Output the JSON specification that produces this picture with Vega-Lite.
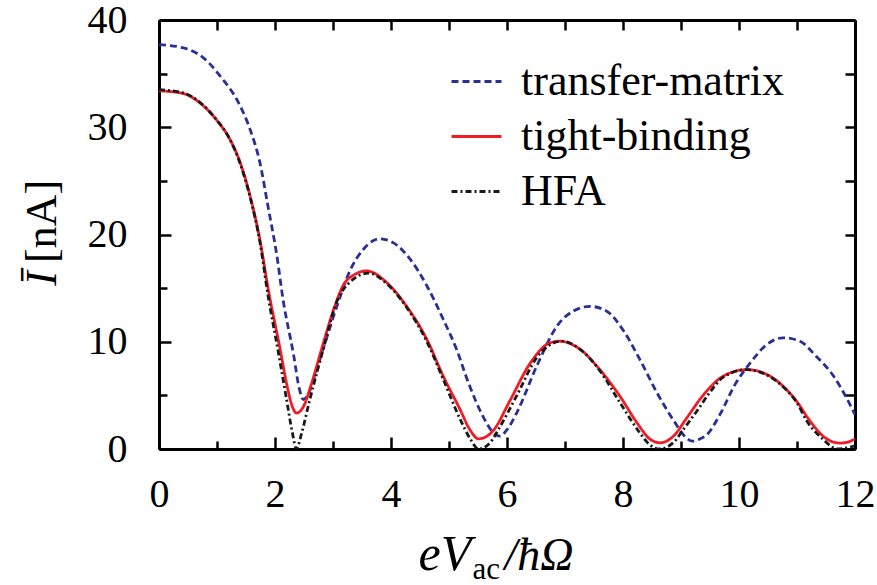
{
  "$schema": "https://vega.github.io/schema/vega-lite/v6.json",
  "width": 696,
  "height": 429,
  "autosize": "none",
  "padding": {"left": 159, "top": 20, "right": 22, "bottom": 136},
  "background": "white",
  "config": {
    "view": {"stroke": null},
    "font": "'Liberation Serif', 'Times New Roman', 'DejaVu Serif', serif",
    "axis": {"grid": false, "domainColor": "black", "domainWidth": 3, "tickColor": "black", "tickWidth": 2.5, "labelFont": "'Liberation Serif', 'Times New Roman', 'DejaVu Serif', serif", "labelFontSize": 40, "labelColor": "black", "titleFont": "'Liberation Serif', 'Times New Roman', 'DejaVu Serif', serif", "titleColor": "black", "titleFontWeight": "normal"}
  },
  "data": {"values": [
    {"model": "transfer-matrix", "V": 0, "I": 37.7},
    {"model": "transfer-matrix", "V": 0.42, "I": 37.4},
    {"model": "transfer-matrix", "V": 0.76, "I": 36.5},
    {"model": "transfer-matrix", "V": 1.08, "I": 34.6},
    {"model": "transfer-matrix", "V": 1.37, "I": 32.3},
    {"model": "transfer-matrix", "V": 1.57, "I": 29.8},
    {"model": "transfer-matrix", "V": 1.74, "I": 26.7},
    {"model": "transfer-matrix", "V": 1.88, "I": 22.6},
    {"model": "transfer-matrix", "V": 2.03, "I": 18.1},
    {"model": "transfer-matrix", "V": 2.14, "I": 13.9},
    {"model": "transfer-matrix", "V": 2.32, "I": 8.8},
    {"model": "transfer-matrix", "V": 2.42, "I": 5.6},
    {"model": "transfer-matrix", "V": 2.49, "I": 4.6},
    {"model": "transfer-matrix", "V": 2.58, "I": 5.2},
    {"model": "transfer-matrix", "V": 2.77, "I": 8.3},
    {"model": "transfer-matrix", "V": 3.06, "I": 13.2},
    {"model": "transfer-matrix", "V": 3.29, "I": 16.6},
    {"model": "transfer-matrix", "V": 3.52, "I": 18.6},
    {"model": "transfer-matrix", "V": 3.81, "I": 19.6},
    {"model": "transfer-matrix", "V": 4.05, "I": 19.2},
    {"model": "transfer-matrix", "V": 4.33, "I": 17.7},
    {"model": "transfer-matrix", "V": 4.62, "I": 15.2},
    {"model": "transfer-matrix", "V": 4.9, "I": 12.1},
    {"model": "transfer-matrix", "V": 5.13, "I": 9.3},
    {"model": "transfer-matrix", "V": 5.34, "I": 6.1},
    {"model": "transfer-matrix", "V": 5.59, "I": 3.0},
    {"model": "transfer-matrix", "V": 5.75, "I": 1.6},
    {"model": "transfer-matrix", "V": 5.88, "I": 1.2},
    {"model": "transfer-matrix", "V": 6.0, "I": 1.8},
    {"model": "transfer-matrix", "V": 6.17, "I": 3.4},
    {"model": "transfer-matrix", "V": 6.51, "I": 7.7},
    {"model": "transfer-matrix", "V": 6.88, "I": 11.6},
    {"model": "transfer-matrix", "V": 7.14, "I": 12.85},
    {"model": "transfer-matrix", "V": 7.43, "I": 13.3},
    {"model": "transfer-matrix", "V": 7.72, "I": 12.85},
    {"model": "transfer-matrix", "V": 8.0, "I": 11.1},
    {"model": "transfer-matrix", "V": 8.29, "I": 8.35},
    {"model": "transfer-matrix", "V": 8.6, "I": 5.1},
    {"model": "transfer-matrix", "V": 8.88, "I": 2.6},
    {"model": "transfer-matrix", "V": 9.08, "I": 1.1},
    {"model": "transfer-matrix", "V": 9.2, "I": 0.73},
    {"model": "transfer-matrix", "V": 9.33, "I": 0.95},
    {"model": "transfer-matrix", "V": 9.44, "I": 1.3},
    {"model": "transfer-matrix", "V": 9.67, "I": 3.2},
    {"model": "transfer-matrix", "V": 9.93, "I": 6.0},
    {"model": "transfer-matrix", "V": 10.19, "I": 8.0},
    {"model": "transfer-matrix", "V": 10.48, "I": 9.74},
    {"model": "transfer-matrix", "V": 10.76, "I": 10.37},
    {"model": "transfer-matrix", "V": 11.05, "I": 10.05},
    {"model": "transfer-matrix", "V": 11.33, "I": 8.65},
    {"model": "transfer-matrix", "V": 11.63, "I": 6.8},
    {"model": "transfer-matrix", "V": 11.86, "I": 4.7},
    {"model": "transfer-matrix", "V": 12.0, "I": 3.2},

    {"model": "tight-binding", "V": 0, "I": 33.4},
    {"model": "tight-binding", "V": 0.42, "I": 33.15},
    {"model": "tight-binding", "V": 0.7, "I": 32.3},
    {"model": "tight-binding", "V": 0.99, "I": 30.7},
    {"model": "tight-binding", "V": 1.22, "I": 28.9},
    {"model": "tight-binding", "V": 1.4, "I": 26.7},
    {"model": "tight-binding", "V": 1.57, "I": 23.6},
    {"model": "tight-binding", "V": 1.74, "I": 19.5},
    {"model": "tight-binding", "V": 1.88, "I": 15.0},
    {"model": "tight-binding", "V": 2.09, "I": 9.25},
    {"model": "tight-binding", "V": 2.2, "I": 6.1},
    {"model": "tight-binding", "V": 2.3, "I": 3.95},
    {"model": "tight-binding", "V": 2.37, "I": 3.35},
    {"model": "tight-binding", "V": 2.49, "I": 3.95},
    {"model": "tight-binding", "V": 2.63, "I": 6.1},
    {"model": "tight-binding", "V": 2.8, "I": 9.25},
    {"model": "tight-binding", "V": 3.03, "I": 13.3},
    {"model": "tight-binding", "V": 3.18, "I": 15.3},
    {"model": "tight-binding", "V": 3.35, "I": 16.2},
    {"model": "tight-binding", "V": 3.58, "I": 16.6},
    {"model": "tight-binding", "V": 3.93, "I": 15.5},
    {"model": "tight-binding", "V": 4.27, "I": 13.3},
    {"model": "tight-binding", "V": 4.62, "I": 10.2},
    {"model": "tight-binding", "V": 4.9, "I": 6.8},
    {"model": "tight-binding", "V": 5.19, "I": 3.7},
    {"model": "tight-binding", "V": 5.36, "I": 1.8},
    {"model": "tight-binding", "V": 5.51, "I": 0.95},
    {"model": "tight-binding", "V": 5.64, "I": 1.15},
    {"model": "tight-binding", "V": 5.76, "I": 1.7},
    {"model": "tight-binding", "V": 6.05, "I": 4.5},
    {"model": "tight-binding", "V": 6.4, "I": 8.0},
    {"model": "tight-binding", "V": 6.74, "I": 9.9},
    {"model": "tight-binding", "V": 6.91, "I": 10.05},
    {"model": "tight-binding", "V": 7.26, "I": 9.3},
    {"model": "tight-binding", "V": 7.6, "I": 7.4},
    {"model": "tight-binding", "V": 7.95, "I": 4.9},
    {"model": "tight-binding", "V": 8.24, "I": 2.45},
    {"model": "tight-binding", "V": 8.47, "I": 0.9},
    {"model": "tight-binding", "V": 8.64, "I": 0.58},
    {"model": "tight-binding", "V": 8.87, "I": 1.2},
    {"model": "tight-binding", "V": 9.1, "I": 2.9},
    {"model": "tight-binding", "V": 9.38, "I": 5.0},
    {"model": "tight-binding", "V": 9.73, "I": 6.8},
    {"model": "tight-binding", "V": 10.13, "I": 7.4},
    {"model": "tight-binding", "V": 10.48, "I": 6.95},
    {"model": "tight-binding", "V": 10.76, "I": 5.86},
    {"model": "tight-binding", "V": 11.0, "I": 4.4},
    {"model": "tight-binding", "V": 11.2, "I": 2.8},
    {"model": "tight-binding", "V": 11.45, "I": 1.2},
    {"model": "tight-binding", "V": 11.6, "I": 0.7},
    {"model": "tight-binding", "V": 11.74, "I": 0.55},
    {"model": "tight-binding", "V": 11.88, "I": 0.65},
    {"model": "tight-binding", "V": 12.0, "I": 0.95},

    {"model": "HFA", "V": 0, "I": 33.5},
    {"model": "HFA", "V": 0.42, "I": 33.2},
    {"model": "HFA", "V": 0.7, "I": 32.35},
    {"model": "HFA", "V": 0.99, "I": 30.7},
    {"model": "HFA", "V": 1.22, "I": 28.9},
    {"model": "HFA", "V": 1.4, "I": 26.6},
    {"model": "HFA", "V": 1.57, "I": 23.5},
    {"model": "HFA", "V": 1.74, "I": 19.3},
    {"model": "HFA", "V": 1.88, "I": 14.3},
    {"model": "HFA", "V": 2.05, "I": 9.25},
    {"model": "HFA", "V": 2.2, "I": 4.6},
    {"model": "HFA", "V": 2.3, "I": 1.5},
    {"model": "HFA", "V": 2.37, "I": 0.0},
    {"model": "HFA", "V": 2.46, "I": 1.5},
    {"model": "HFA", "V": 2.6, "I": 4.6},
    {"model": "HFA", "V": 2.83, "I": 9.25},
    {"model": "HFA", "V": 3.07, "I": 13.8},
    {"model": "HFA", "V": 3.3, "I": 15.6},
    {"model": "HFA", "V": 3.61, "I": 16.4},
    {"model": "HFA", "V": 3.93, "I": 15.4},
    {"model": "HFA", "V": 4.27, "I": 13.2},
    {"model": "HFA", "V": 4.62, "I": 10.0},
    {"model": "HFA", "V": 4.9, "I": 6.5},
    {"model": "HFA", "V": 5.19, "I": 2.8},
    {"model": "HFA", "V": 5.36, "I": 1.0},
    {"model": "HFA", "V": 5.51, "I": 0.0},
    {"model": "HFA", "V": 5.71, "I": 0.6},
    {"model": "HFA", "V": 5.86, "I": 1.9},
    {"model": "HFA", "V": 6.17, "I": 5.0},
    {"model": "HFA", "V": 6.51, "I": 8.5},
    {"model": "HFA", "V": 6.94, "I": 10.05},
    {"model": "HFA", "V": 7.26, "I": 9.3},
    {"model": "HFA", "V": 7.6, "I": 7.3},
    {"model": "HFA", "V": 7.95, "I": 4.3},
    {"model": "HFA", "V": 8.29, "I": 1.5},
    {"model": "HFA", "V": 8.45, "I": 0.45},
    {"model": "HFA", "V": 8.62, "I": 0.0},
    {"model": "HFA", "V": 8.87, "I": 0.6},
    {"model": "HFA", "V": 9.05, "I": 1.9},
    {"model": "HFA", "V": 9.27, "I": 3.5},
    {"model": "HFA", "V": 9.5, "I": 5.3},
    {"model": "HFA", "V": 9.73, "I": 6.7},
    {"model": "HFA", "V": 10.13, "I": 7.4},
    {"model": "HFA", "V": 10.48, "I": 6.9},
    {"model": "HFA", "V": 10.76, "I": 5.8},
    {"model": "HFA", "V": 11.0, "I": 4.3},
    {"model": "HFA", "V": 11.17, "I": 2.6},
    {"model": "HFA", "V": 11.45, "I": 0.9},
    {"model": "HFA", "V": 11.6, "I": 0.2},
    {"model": "HFA", "V": 11.68, "I": 0.0},
    {"model": "HFA", "V": 11.85, "I": 0.1},
    {"model": "HFA", "V": 12.0, "I": 0.3}
  ]},
  "resolve": {"axis": {"x": "independent", "y": "independent"}},
  "layer": [
    {
      "mark": {"type": "line", "interpolate": "monotone", "strokeWidth": 2.8, "clip": true},
      "encoding": {
        "x": {"field": "V", "type": "quantitative", "scale": {"domain": [0, 12], "nice": false, "zero": false},
          "axis": {"orient": "bottom", "values": [0, 2, 4, 6, 8, 10, 12], "tickSize": -12, "labelPadding": 37, "labelFlush": false, "labelOverlap": false,
            "title": "eV", "titleFontStyle": "italic", "titleFontSize": 50, "titleAlign": "left", "titleBaseline": "alphabetic", "titleX": 259, "titleY": 120}},
        "y": {"field": "I", "type": "quantitative", "scale": {"domain": [0, 40], "nice": false},
          "axis": {"orient": "left", "values": [0, 10, 20, 30, 40], "tickSize": -12, "labelPadding": 44, "labelFlush": false, "labelOverlap": false, "labelBaseline": "middle",
            "title": "[nA]", "titleFontSize": 44, "titleAngle": -90, "titleAlign": "center", "titleBaseline": "alphabetic", "titleX": -104, "titleY": 201}},
        "color": {"field": "model", "type": "nominal",
          "scale": {"domain": ["transfer-matrix", "tight-binding", "HFA"], "range": ["#2a2f96", "#ee1c25", "#1a1a1a"]},
          "legend": {"orient": "none", "legendX": 291, "legendY": 35, "title": null, "symbolType": "stroke", "symbolSize": 2500, "symbolStrokeWidth": 3,
            "labelFont": "'Liberation Serif', 'Times New Roman', 'DejaVu Serif', serif", "labelFontSize": 44, "labelColor": "black", "labelOffset": 18, "rowPadding": 6, "labelLimit": 400}},
        "strokeDash": {"field": "model", "type": "nominal",
          "scale": {"domain": ["transfer-matrix", "tight-binding", "HFA"], "range": [[7, 4], [1, 0], [6, 3, 2, 3]]},
          "legend": null}
      }
    },
    {
      "mark": {"type": "point", "opacity": 0},
      "encoding": {
        "x": {"field": "V", "type": "quantitative",
          "axis": {"orient": "bottom", "values": [1, 3, 5, 7, 9, 11], "tickSize": -8, "labels": false, "domain": false,
            "title": "ac", "titleFontSize": 31, "titleAlign": "left", "titleBaseline": "alphabetic", "titleX": 313, "titleY": 129}},
        "y": {"field": "I", "type": "quantitative",
          "axis": {"orient": "left", "values": [5, 15, 25, 35], "tickSize": -8, "labels": false, "domain": false,
            "title": "Ī", "titleFontStyle": "italic", "titleFontSize": 44, "titleAngle": -90, "titleAlign": "center", "titleBaseline": "alphabetic", "titleX": -104, "titleY": 258}}
      }
    },
    {
      "mark": {"type": "point", "opacity": 0},
      "encoding": {
        "x": {"field": "V", "type": "quantitative",
          "axis": {"orient": "top", "values": [0, 1, 2, 3, 4, 5, 6, 7, 8, 9, 10, 11, 12], "tickSize": -10, "labels": false, "title": null}},
        "y": {"field": "I", "type": "quantitative",
          "axis": {"orient": "right", "values": [0, 5, 10, 15, 20, 25, 30, 35, 40], "tickSize": -10, "labels": false, "title": null}}
      }
    },
    {
      "mark": {"type": "point", "opacity": 0},
      "encoding": {
        "x": {"field": "V", "type": "quantitative",
          "axis": {"orient": "bottom", "ticks": false, "labels": false, "domain": false,
            "title": "/ħΩ", "titleFontStyle": "italic", "titleFontSize": 46, "titleAlign": "left", "titleBaseline": "alphabetic", "titleX": 345, "titleY": 120}},
        "y": {"field": "I", "type": "quantitative", "axis": null}
      }
    }
  ]
}
